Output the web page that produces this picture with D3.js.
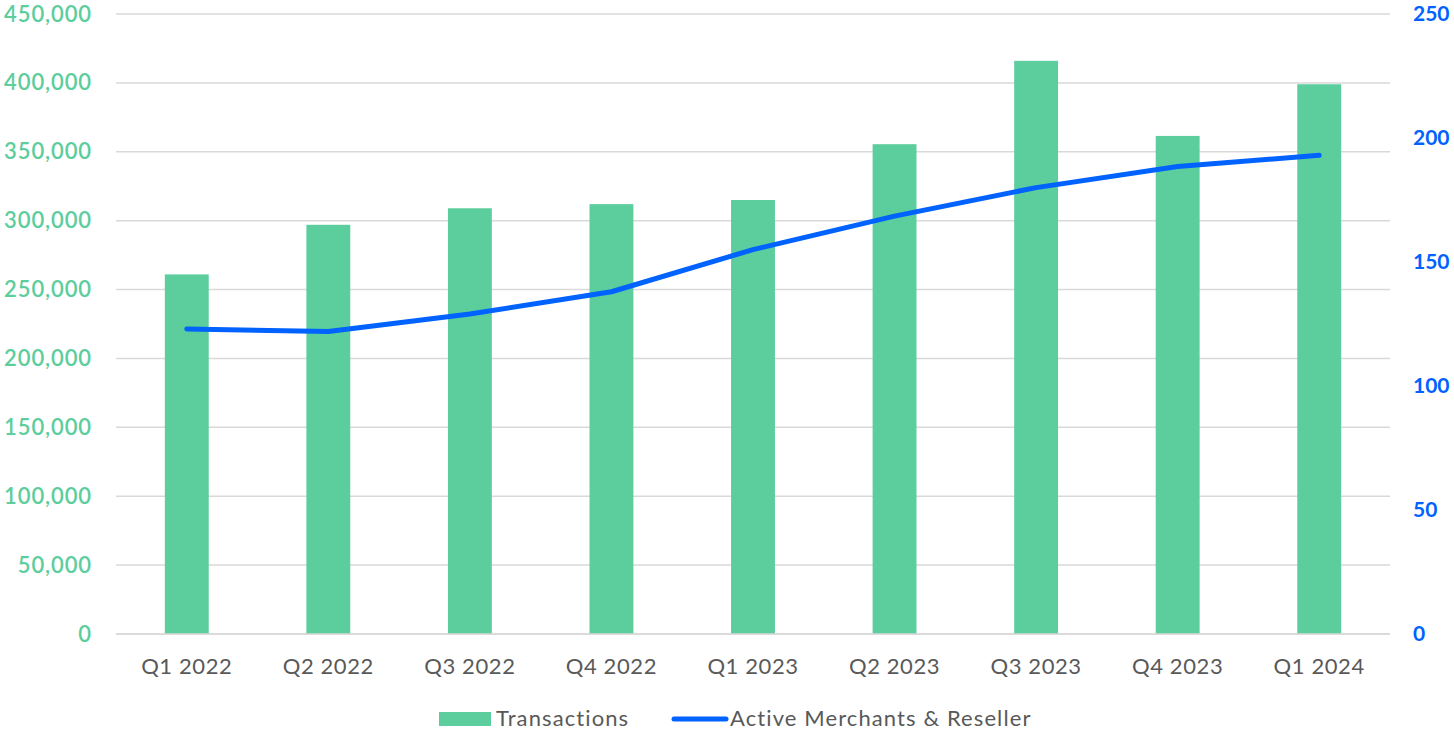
<!DOCTYPE html>
<html>
<head>
<meta charset="utf-8">
<script src="https://cdn.jsdelivr.net/npm/d3@7"></script>
<style>
  body { margin: 0; background: #fff; }
  text { font-family: Lato, "Open Sans", sans-serif; }
</style>
</head>
<body>
<svg width="1454" height="731"></svg>
<script>
// data
const quarters = ["Q1 2022", "Q2 2022", "Q3 2022", "Q4 2022", "Q1 2023", "Q2 2023", "Q3 2023", "Q4 2023", "Q1 2024"];
const transactions = [261000, 297000, 309000, 312000, 315000, 355500, 416000, 361500, 399000];
const merchants = [123, 122, 129, 138, 155, 168.5, 180, 188.5, 193];
const leftTicks = d3.range(0, 450001, 50000);
const rightTicks = [0, 50, 100, 150, 200, 250];

const green = "#5ccd9d", blue = "#0062ff", grid = "#d9d9d9", grey = "#595959";
const svg = d3.select("svg");
const plotL = 116, plotR = 1390, plotT = 14, plotB = 634;

const x = d3.scaleBand().domain(quarters).range([plotL, plotR]).paddingInner(0.69).paddingOuter(0.345);
const yL = d3.scaleLinear().domain([0, 450000]).range([plotB, plotT]);
const yR = d3.scaleLinear().domain([0, 250]).range([plotB, plotT]);

// gridlines
svg.append("g").selectAll("line").data(leftTicks).enter().append("line")
  .attr("x1", plotL).attr("x2", plotR)
  .attr("y1", d => yL(d)).attr("y2", d => yL(d))
  .attr("stroke", grid).attr("stroke-width", 1.5);

// left axis
const axL = svg.append("g").attr("transform", `translate(${plotL},0)`)
  .call(d3.axisLeft(yL).tickValues(leftTicks).tickFormat(d3.format(",")).tickSize(0).tickPadding(24));
axL.select(".domain").remove();
axL.selectAll("text").attr("fill", green).style("font-size", "22px").style("letter-spacing", "0.9px")
  .style("font-weight", 600).attr("dy", "0.32em");

// right axis
const axR = svg.append("g").attr("transform", `translate(${plotR},0)`)
  .call(d3.axisRight(yR).tickValues(rightTicks).tickSize(0).tickPadding(23));
axR.select(".domain").remove();
axR.selectAll("text").attr("fill", blue).style("font-size", "21px").style("font-weight", 700).attr("dy", "0.32em");

// bars
svg.append("g").selectAll("rect").data(transactions).enter().append("rect")
  .attr("x", (d, i) => x(quarters[i]))
  .attr("width", x.bandwidth())
  .attr("y", d => yL(d))
  .attr("height", d => plotB - yL(d))
  .attr("fill", green);

// baseline
svg.append("line").attr("x1", plotL).attr("x2", plotR).attr("y1", plotB).attr("y2", plotB)
  .attr("stroke", grid).attr("stroke-width", 1.5);

// x axis
const axB = svg.append("g").attr("transform", `translate(0,${plotB})`)
  .call(d3.axisBottom(x).tickSize(0).tickPadding(24));
axB.select(".domain").remove();
axB.selectAll("text").attr("fill", grey).style("font-size", "22px").style("letter-spacing", "0.6px");

// line
const line = d3.line().x((d, i) => x(quarters[i]) + x.bandwidth() / 2).y(d => yR(d));
svg.append("path").datum(merchants).attr("d", line)
  .attr("fill", "none").attr("stroke", blue).attr("stroke-width", 5)
  .attr("stroke-linecap", "round").attr("stroke-linejoin", "round");

// legend
const lg = svg.append("g");
lg.append("rect").attr("x", 439).attr("y", 712).attr("width", 52).attr("height", 14).attr("fill", green);
lg.append("text").attr("x", 496).attr("y", 726).attr("fill", grey).style("font-size", "22px")
  .style("letter-spacing", "1.1px").text("Transactions");
lg.append("line").attr("x1", 674).attr("x2", 726).attr("y1", 719).attr("y2", 719)
  .attr("stroke", blue).attr("stroke-width", 5).attr("stroke-linecap", "round");
lg.append("text").attr("x", 730).attr("y", 726).attr("fill", grey).style("font-size", "22px")
  .style("letter-spacing", "1.1px").text("Active Merchants & Reseller");
</script>
</body>
</html>
